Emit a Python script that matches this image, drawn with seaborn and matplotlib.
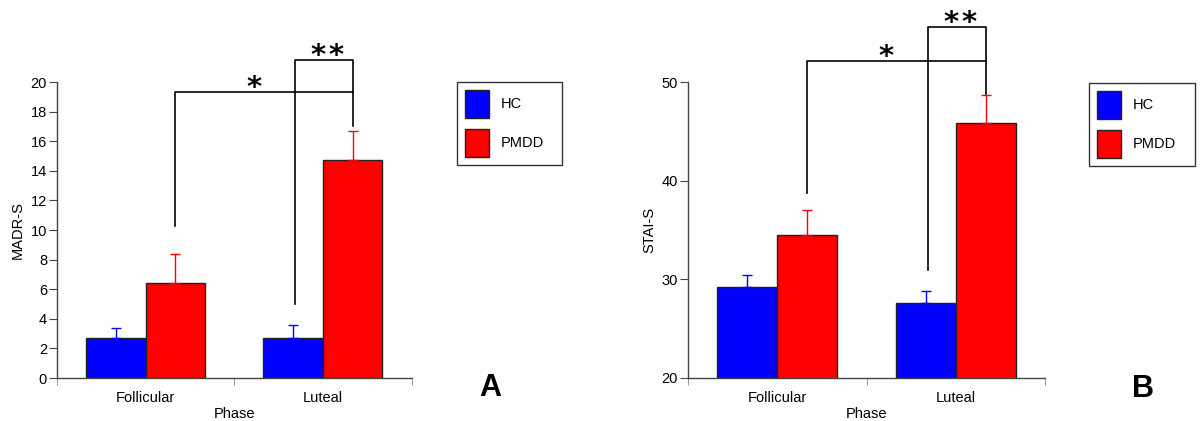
import matplotlib
matplotlib.use("Agg")
import matplotlib.pyplot as plt
import seaborn as sns
import pandas as pd

phases = ["Follicular", "Luteal"]
groups = ["HC", "PMDD"]
colors = ["#0000ff", "#ff0000"]

# panel A: MADR-S
madrs_hc = [2.7, 2.7]
madrs_pmdd = [6.4, 14.7]
madrs_hc_err = [0.7, 0.85]
madrs_pmdd_err = [2.0, 2.0]

# panel B: STAI-S
stai_hc = [29.2, 27.6]
stai_pmdd = [34.5, 45.9]
stai_hc_err = [1.2, 1.2]
stai_pmdd_err = [2.5, 2.8]

plt.rcParams['font.family'] = ['Liberation Sans', 'DejaVu Sans']

fig = plt.figure(figsize=(12, 4.21), dpi=100)
W, H = 1200, 421
PT = 72 / 100  # points per pixel


def panel(rect_px, hc, pmdd, hc_err, pmdd_err, ylim, yticks, ylabel,
          star1, star2, leg_px, letter_px, letter):
    x0, x1, ybot = rect_px
    ax = fig.add_axes([x0 / W, (H - ybot) / H, (x1 - x0) / W, ybot / H])
    df = pd.DataFrame({
        "Phase": phases * 2,
        "Group": [groups[0]] * 2 + [groups[1]] * 2,
        "value": list(hc) + list(pmdd),
    })
    sns.barplot(data=df, x="Phase", y="value", hue="Group", order=phases,
                hue_order=groups, palette=colors, width=0.672, errorbar=None,
                edgecolor="#222222", linewidth=1.0, saturation=1, ax=ax,
                legend=False)
    errs = [hc_err, pmdd_err]
    vals = [hc, pmdd]
    centers = {}
    bar_conts = list(ax.containers)
    for gi, cont in enumerate(bar_conts):
        xs = [p.get_x() + p.get_width() / 2 for p in cont.patches]
        centers[gi] = xs
        ax.errorbar(xs, vals[gi], yerr=[[0, 0], errs[gi]], fmt="none",
                    ecolor=colors[gi], elinewidth=1.0, capsize=3.7,
                    capthick=1.0, zorder=1)
    ax.set_xlim(-0.5, 1.5)
    ax.set_ylim(*ylim)
    ax.set_yticks(yticks)
    ax.spines["left"].set_bounds(yticks[0], yticks[-1])
    for s in ["top", "right"]:
        ax.spines[s].set_visible(False)
    for s in ["left", "bottom"]:
        ax.spines[s].set_color("#444444")
        ax.spines[s].set_linewidth(1.0)
    ax.set_xticks([0, 1])
    ax.set_xticks([-0.5, 0.5, 1.5], minor=True)
    ax.tick_params(axis="x", which="major", length=0, labelsize=10.5, pad=9.6)
    ax.tick_params(axis="x", which="minor", length=5, color="#888888")
    ax.tick_params(axis="y", length=5.5, color="#444444", labelsize=10.5, pad=1.7)
    ax.set_xlabel("Phase", fontsize=10.5, labelpad=1.5)
    ax.set_ylabel(ylabel, fontsize=10.5)
    ax.yaxis.set_label_coords(-32 / (x1 - x0),
                              (yticks[-1] - ylim[0]) / 2 / (ylim[1] - ylim[0]))
    ax.patch.set_alpha(0)

    fol_p = centers[1][0]
    lut_h = centers[0][1] + 0.01
    lut_p = centers[1][1]
    # "*" bracket
    y_top, y_left, y_right = star1
    ax.plot([fol_p, fol_p, lut_p, lut_p], [y_left, y_top, y_top, y_right],
            color="black", lw=1.2, clip_on=False)
    ax.annotate("*", ((fol_p + lut_p) / 2, y_top), xytext=(-10 * PT, -10 * PT),
                textcoords="offset points", ha="center", va="bottom",
                fontsize=21, fontweight="bold", family="DejaVu Sans",
                annotation_clip=False)
    # "**" bracket
    y_top2, y_left2 = star2
    ax.plot([lut_h, lut_h, lut_p, lut_p], [y_left2, y_top2, y_top2, y_top],
            color="black", lw=1.2, clip_on=False)
    ax.annotate("*\u200a*", ((lut_h + lut_p) / 2, y_top2), xytext=(4 * PT, -10 * PT),
                textcoords="offset points", ha="center", va="bottom",
                fontsize=21, fontweight="bold", family="DejaVu Sans",
                annotation_clip=False)

    lx0, lx1, ly0, ly1 = leg_px
    handles = [plt.Rectangle((0, 0), 1, 1, facecolor=c, edgecolor="#222222", lw=1.0)
               for c in colors]
    leg = fig.legend(handles, groups, loc="upper left", mode="expand",
                     bbox_to_anchor=(lx0 / W, 1 - ly1 / H, (lx1 - lx0) / W,
                                     (ly1 - ly0) / H),
                     frameon=True,
                     fontsize=10.5, handlelength=1.64, handleheight=2.58,
                     handletextpad=0.8, labelspacing=0.75, borderpad=0.55,
                     borderaxespad=0, fancybox=False)
    leg.get_frame().set_edgecolor("black")
    leg.get_frame().set_linewidth(1.0)
    fig.text(letter_px[0] / W, 1 - letter_px[1] / H, letter, fontsize=22,
             fontweight="bold", ha="center", va="center")
    return ax


panel((57, 411.5, 378), madrs_hc, madrs_pmdd, madrs_hc_err, madrs_pmdd_err,
      (0, 378 / 14.8), list(range(0, 21, 2)), "MADR-S",
      (19.3, 10.3, 17.0), (21.5, 5.0), (457, 562, 82, 164), (490, 388), "A")
panel((688, 1045, 377.7), stai_hc, stai_pmdd, stai_hc_err, stai_pmdd_err,
      (20, 20 + 377.7 / 9.85), [20, 30, 40, 50], "STAI-S",
      (52.2, 38.8, 48.8), (55.6, 30.9), (1089, 1195, 83, 164), (1143, 389), "B")

fig.savefig("out.png", dpi=100)
